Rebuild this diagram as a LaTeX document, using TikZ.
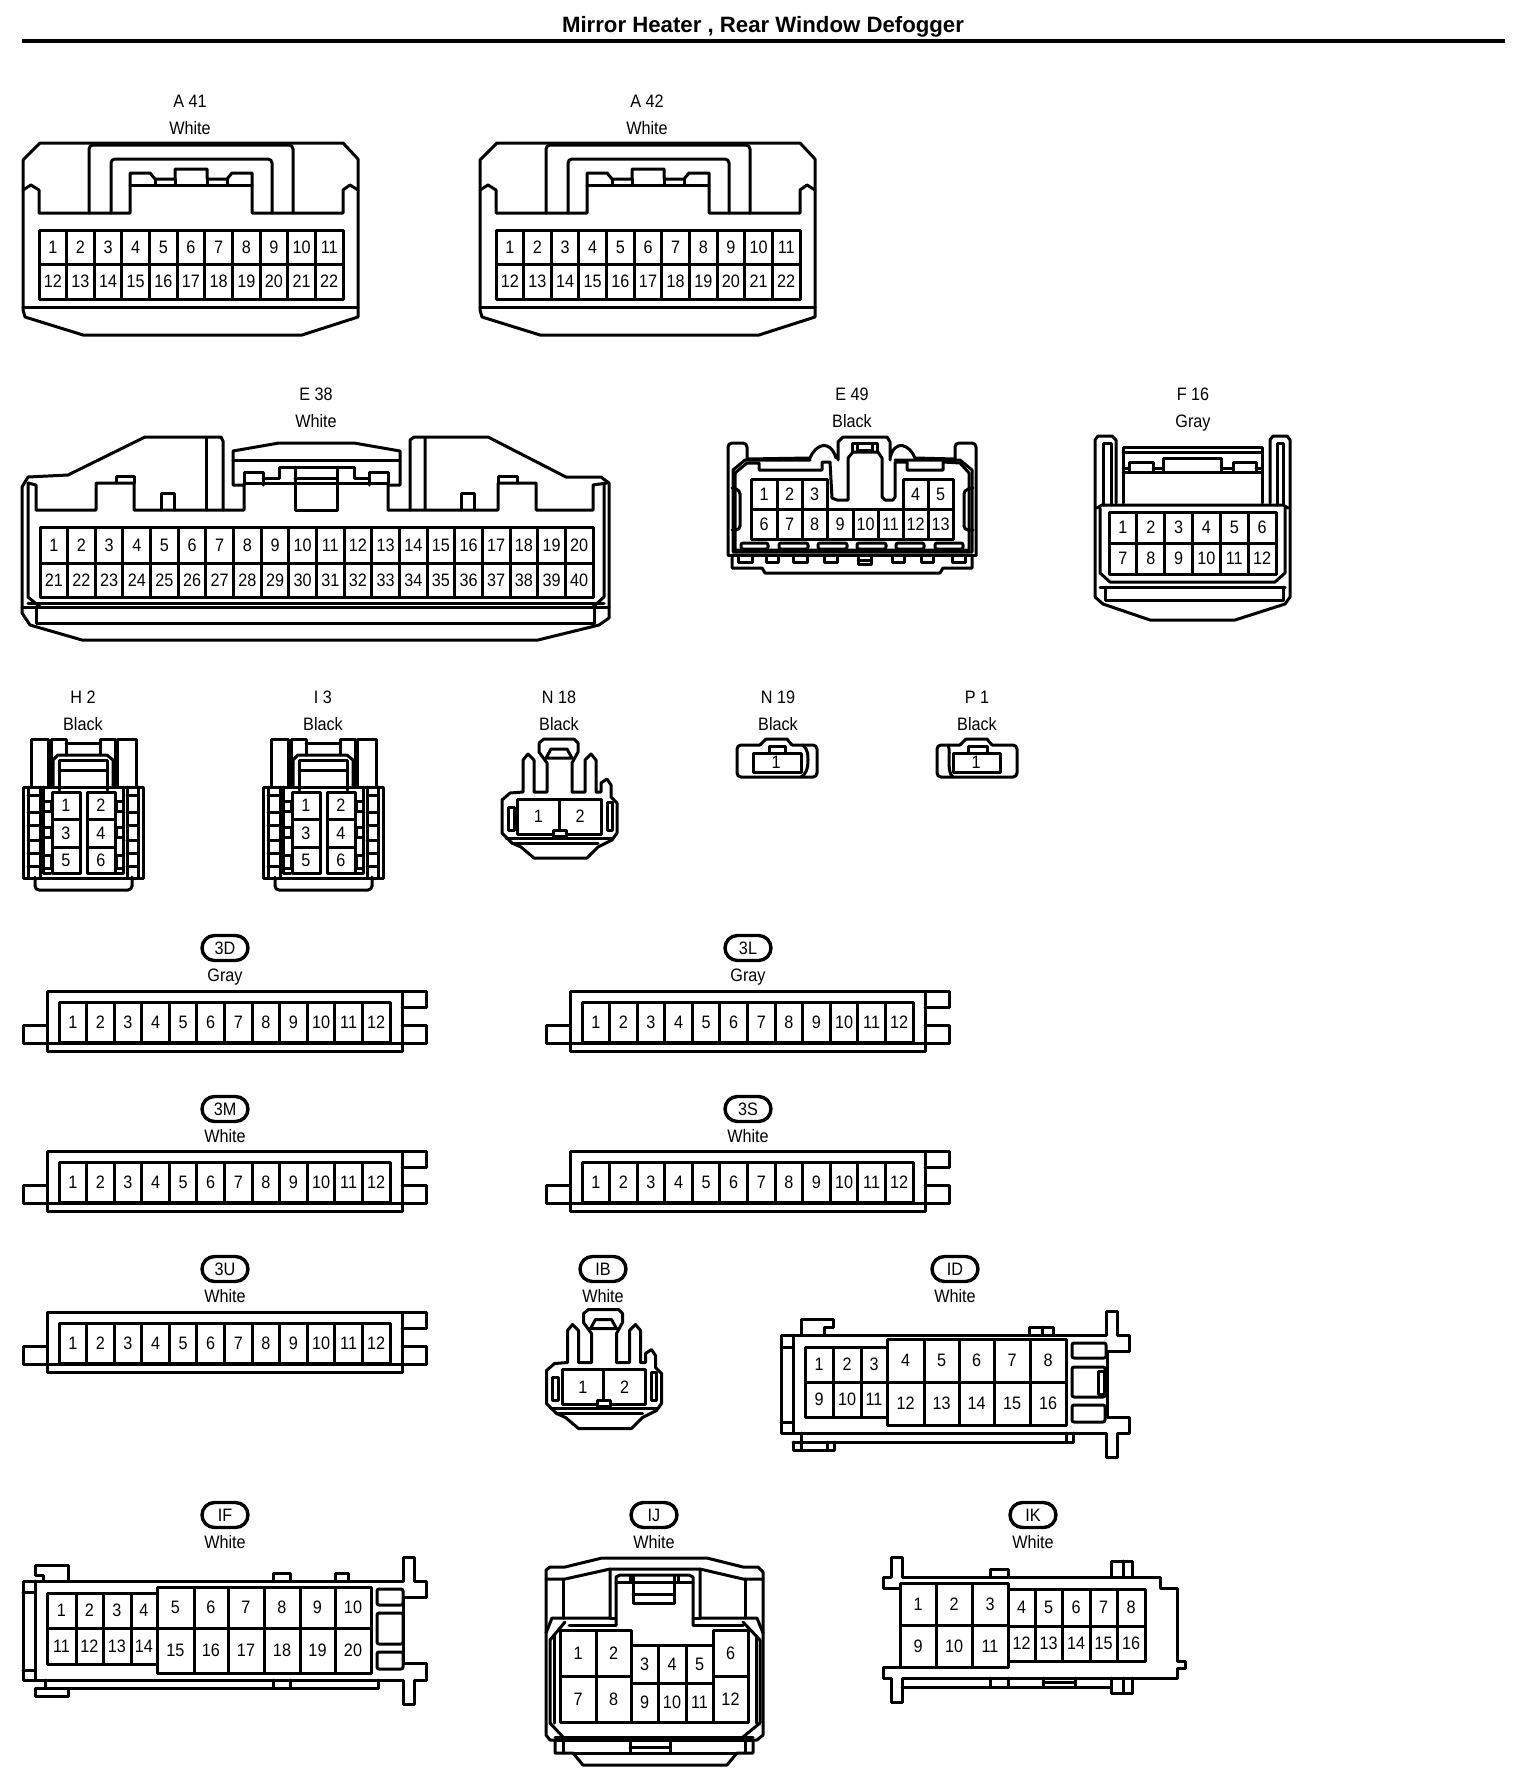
\documentclass[tikz,border=0pt]{standalone}
\usepackage{fontspec}
\setmainfont{Liberation Sans}
\newfontfamily\lblfont[FakeStretch=0.9]{Liberation Sans}
\usetikzlibrary{shapes.misc}
\newcount\pinno
\tikzset{
  x=0.5pt,y=-0.5pt,
  ln/.style={line width=1.5pt,line join=round,line cap=round,black},
  pinlabel/.style={inner sep=0pt,font=\lblfont\fontsize{9}{9}\selectfont},
  toplabel/.style={inner sep=0pt,text height=7pt,text depth=2pt,font=\lblfont\fontsize{9}{9}\selectfont},
  pill/.style={rounded rectangle,draw,line width=1.7pt,minimum width=23pt,minimum height=12.5pt,inner sep=0pt,font=\lblfont\fontsize{9}{9}\selectfont},
  rc/.style={rounded corners=2pt}
}
\newcommand\pincell[5]{%
  \draw[ln] (#1,#2) rectangle (#3,#4);
  \global\advance\pinno by 1
  \node[pinlabel] (pin\the\pinno) at ({(#1+#3)/2},{(#2+#4)/2}) {#5};}
\newcommand\pinrow[6]{%
  \pgfmathsetmacro\cw{(#2-#1)/#5}%
  \foreach \k in {1,...,#5}{%
    \pgfmathsetmacro\xa{#1+(\k-1)*\cw}%
    \pgfmathsetmacro\xb{#1+\k*\cw}%
    \pgfmathtruncatemacro\pn{#6+\k-1}%
    \pincell{\xa}{#3}{\xb}{#4}{\pn}}}
\newcommand\cellset[1]{\foreach \a/\b/\c/\d/\t in {#1}{\pincell{\a}{\b}{\c}{\d}{\t}}}
\newcommand\hdr[5]{% name x y text colour
  \node[toplabel] (#1code) at (#2,#3+1) {#4};
  \node[toplabel] (#1col) at (#2,#3+28.4) {#5};}
\newcommand\pillhdr[5]{%
  \node[pill] (#1code) at (#2,#3) {#4};
  \node[toplabel] (#1col) at (#2,#3+28) {#5};}
\newcommand\connA{%
  \draw[ln] (40,143)--(343,143)--(358,159)--(358,317)--(302,335)--(83,335)--(25,317)--(23,310)--(23,160)--cycle;
  \draw[ln] (23,307)--(358,307);
  \draw[ln] (23,190)--(31,185)--(39,190)--(39,213)--(130,213)--(130,173)--(150,173)--(155,179)--(175,179)--(175,169)--(207,169)--(207,179)--(227,179)--(232,173)--(252,173)--(252,213)--(343,213)--(343,190)--(350,185)--(358,190);
  \draw[ln] (130,185)--(252,185) (155,179)--(155,185) (175,179)--(175,185) (207,179)--(207,185) (227,179)--(227,185);
  \draw[ln,rc] (89,213)--(89,145)--(293,145)--(293,213);
  \draw[ln,rc] (111,213)--(111,159)--(272,159)--(272,213);
  \pinrow{39}{343}{230}{264}{11}{1}
  \pinrow{39}{343}{264}{299}{11}{12}}
\newcommand\connH{%
  \draw[ln] (23,787) rectangle (143,878);
  \draw[ln] (31,787)--(31,739)--(48,739)--(48,787);
  \draw[ln] (51,787)--(51,739)--(66,739)--(66,755) (66,743)--(100,743) (100,755)--(100,739)--(115,739)--(115,787);
  \draw[ln] (117,787)--(117,739)--(136,739)--(136,787);
  \draw[ln] (53,787)--(53,760)--(58,755)--(107,755)--(113,760)--(113,787);
  \draw[ln] (59,790)--(59,760)--(107,760)--(107,790) (59,770)--(107,770);
  \draw[ln] (28,787)--(28,877) (40,787)--(40,877) (127,787)--(127,877) (138,787)--(138,877);
  \foreach \yy in {795,812,825,840,853,866}{\draw[ln] (28,\yy)--(40,\yy) (127,\yy)--(138,\yy);}
  \draw[ln] (43,787)--(43,873)--(51,873) (123,787)--(123,873)--(116,873);
  \draw[ln] (43,801) rectangle (51,811) (43,827) rectangle (51,837) (43,855) rectangle (51,868);
  \draw[ln] (116,801) rectangle (123,811) (116,827) rectangle (123,837) (116,855) rectangle (123,868);
  \draw[ln,rc] (35,877)--(35,890)--(132,890)--(132,877);
  \pincell{52}{792}{80}{819}{1}\pincell{87}{792}{115}{819}{2}
  \pincell{52}{819}{80}{847}{3}\pincell{87}{819}{115}{847}{4}
  \pincell{52}{847}{80}{873}{5}\pincell{87}{847}{115}{873}{6}}
\newcommand\connN{%
  \draw[ln] (502,800)--(510,793)--(523,792)--(523,760)--(528,754)--(534,760)--(534,792)--(547,792)--(547,763)--(539,752)--(539,743)--(544,739)--(574,739)--(578,743)--(578,752)--(572,763)--(572,792)--(585,792)--(585,760)--(591,754)--(596,760)--(596,792)--(601,792)--(601,783)--(607,779)--(611,785)--(611,797)--(617,803)--(617,833)--(612,840)--(598,847)--(587,858)--(534,858)--(521,847)--(512,843)--(502,833)--cycle;
  \draw[ln] (512,843)--(598,843) (506,838)--(612,838);
  \draw[ln] (546,758)--(551,749)--(567,749)--(572,758)--cycle;
  \draw[ln] (508,807) rectangle (514,830) (607,802) rectangle (612,830);
  \pincell{517.5}{799}{559}{834}{1}\pincell{559}{799}{601}{834}{2}
  \draw[ln,fill=white] (553,830) rectangle (566,836);}
\newcommand\connFlat{%
  \draw[ln] (47,991) rectangle (402,1051);
  \draw[ln] (402,991)--(426,991)--(426,1007)--(402,1007);
  \draw[ln] (402,1025)--(426,1025)--(426,1043)--(402,1043);
  \draw[ln] (47,1025)--(23,1025)--(23,1043)--(426,1043);
  \pinrow{59}{390}{1002}{1042}{12}{1}}
\begin{document}
\begin{tikzpicture}
\useasboundingbox[fill=white] (0,0) rectangle (1536,1788);
% title
\node[inner sep=0pt,font=\bfseries\fontsize{11.1}{11.1}\selectfont] (title) at (763,27) {Mirror Heater , Rear Window Defogger};
\coordinate (ruleL) at (22,41); \coordinate (ruleR) at (1505,41);
\draw[line width=1.8pt] (ruleL)--(ruleR);
% A41, A42
\hdr{A41}{190}{101}{A 41}{White}
\hdr{A42}{647}{101}{A 42}{White}
\connA
\begin{scope}[shift={(457,0)}]\connA\end{scope}
% E38
\hdr{E38}{316}{394}{E 38}{White}
\draw[ln] (22,487)--(28,477)--(68,475)--(145,437)--(221,437)--(223,441)--(223,510)--(244,510)--(244,485)--(233,485)--(233,451)--(279,443)--(354,443)--(400,451)--(400,485)--(388,485)--(388,510)--(410,510)--(410,440)--(414,437)--(488,437)--(566,477)--(601,477)--(609,483)--(609,618)--(599,625)--(538,640)--(82,640)--(30,625)--(22,613)--cycle;
\draw[ln] (28,483)--(36,485)--(36,510)--(96,510)--(96,483)--(134,483)--(134,510)--(223,510);
\draw[ln] (28,483)--(28,597)--(40,607);
\draw[ln] (116,483)--(116,476)--(134,476)--(134,483);
\draw[ln] (161,510)--(161,493)--(174,493)--(174,510);
\draw[ln] (206,438)--(206,510);
\draw[ln] (233,460)--(400,460);
\draw[ln] (244,485)--(244,472)--(263,472)--(263,485) (263,478)--(279,478)--(279,467)--(354,467)--(354,478)--(369,478)--(369,485) (369,478)--(369,472)--(388,472)--(388,485);
\draw[ln] (244,483)--(388,483);
\draw[ln] (295,467)--(295,510)--(337,510)--(337,467) (295,478)--(337,478);
\draw[ln] (425,438)--(425,510) (410,510)--(498,510)--(498,483)--(536,483)--(536,510)--(593,510)--(593,485)--(607,483);
\draw[ln] (498,483)--(498,476)--(517,476)--(517,483);
\draw[ln] (461,510)--(461,493)--(474,493)--(474,510);
\draw[ln] (604,483)--(604,597)--(593,607);
\pinrow{40}{593}{527}{563}{20}{1}
\pinrow{40}{593}{563}{597}{20}{21}
\draw[ln] (28,603)--(604,603) (22,607)--(594,607)--(609,607) (36,608)--(36,623)--(594,623)--(594,608);
% E49
\hdr{E49}{852}{394}{E 49}{Black}
\draw[ln,rc] (728,555)--(728,443)--(747,443)--(747,460);
\draw[ln] (747,459)--(810,458) .. controls (815,445) and (830,438) .. (836,458) (838,460)--(838,442)--(843,437)--(887,437)--(890,442)--(890,460) (890,458) .. controls (895,438) and (910,445) .. (915,458)--(955,459);
\draw[ln,rc] (955,460)--(955,443)--(976,443)--(976,555);
\draw[ln] (728,555)--(976,555);
\draw[ln] (732,555)--(732,568)--(762,568)--(765,573)--(940,573)--(943,568)--(972,568)--(972,555);
\draw[ln] (810,460)--(745,460)--(733,470)--(733,552)--(972,552)--(972,470)--(960,460)--(895,460);
\draw[ln] (735,550)--(735,473)--(747,463)--(759,463)--(759,470)--(822,470)--(822,462)--(830,462)--(832,498)--(837,500)--(848,500)--(848,458)--(853,452)--(878,452)--(882,458)--(882,497)--(885,500)--(893,500)--(895,497)--(895,462)--(907,462)--(907,470)--(943,470)--(943,462)--(960,463)--(969,473)--(969,550)--cycle;
\draw[ln] (852,452)--(852,443)--(877,443)--(877,452) (857,445)--(857,450)--(872,450)--(872,445);
\draw[ln,rc] (732,488)--(740,490)--(740,530)--(732,530);
\draw[ln,rc] (973,488)--(964,490)--(964,530)--(973,530);
\foreach \u/\v in {741/768,779/808,818/847,857/886,896/924,935/963}{\draw[ln,rounded corners=1pt] (\u,543) rectangle (\v,549);}
\foreach \u/\v in {738/752,766/778,793/807,824/837,892/904,921/933,952/965}{\draw[ln] (\u,555) rectangle (\v,562);}
\draw[ln] (858,555) rectangle (871,564) (858,560)--(871,560);
\cellset{751/479/777/509/1,777/479/802/509/2,802/479/827/509/3,903/479/928/509/4,928/479/953/509/5,751/509/777/539/6,777/509/802/539/7,802/509/827/539/8,827/509/853/539/9,853/509/878/539/10,878/509/903/539/11,903/509/928/539/12,928/509/953/539/13}
% F16
\hdr{F16}{1193}{394}{F 16}{Gray}
\draw[ln] (1095,597)--(1095,440)--(1098,436)--(1112,436)--(1116,440)--(1116,503);
\draw[ln] (1270,503)--(1270,440)--(1273,436)--(1287,436)--(1290,440)--(1290,597)--(1285,604)--(1235,620)--(1150,620)--(1103,604)--(1095,597);
\draw[ln] (1103,505)--(1103,443)--(1111,443)--(1111,505) (1283,505)--(1283,443)--(1277,443)--(1277,505);
\draw[ln] (1123,503)--(1123,447)--(1262,447)--(1262,503) (1123,452)--(1262,452);
\draw[ln] (1123,472)--(1262,472);
\draw[ln] (1129,472)--(1129,462)--(1153,462)--(1153,472) (1153,468)--(1163,468)--(1163,458)--(1221,458)--(1221,468)--(1233,468)--(1233,462)--(1256,462)--(1256,472) (1233,468)--(1233,472) (1163,468)--(1163,472) (1221,468)--(1221,472) (1123,468)--(1129,468) (1256,468)--(1262,468);
\draw[ln] (1097,508)--(1102,505)--(1283,505)--(1288,508);
\draw[ln] (1100,508)--(1100,573)--(1110,582)--(1275,582)--(1285,573)--(1285,508);
\draw[ln] (1100,587)--(1285,587) (1105,587)--(1105,600)--(1283,600)--(1283,587);
\pinrow{1109}{1276}{512}{543}{6}{1}
\pinrow{1109}{1276}{543}{574}{6}{7}
% H2, I3
\hdr{H2}{83}{697}{H 2}{Black}
\hdr{I3}{323}{697}{I 3}{Black}
\connH
\begin{scope}[shift={(240,0)}]\connH\end{scope}
% N18
\hdr{N18}{559}{697}{N 18}{Black}
\connN
% N19
\hdr{N19}{778}{697}{N 19}{Black}
\draw[ln,rc] (760,745)--(737,745)--(737,777)--(817,777)--(817,745)--(792,745);
\draw[ln] (760,745)--(766,739)--(787,739)--(792,745);
\draw[ln] (803,745) .. controls (808,750) and (808,755) .. (808,760) .. controls (808,770) and (805,775) .. (801,777);
\draw[ln] (753,753) rectangle (801,772);
\draw[ln] (769,746) rectangle (785,753);
\node[pinlabel] (n19pin) at (776,762) {1};
% P1
\hdr{P1}{977}{697}{P 1}{Black}
\draw[ln,rc] (960,745)--(937,745)--(937,777)--(1017,777)--(1017,745)--(992,745);
\draw[ln] (960,745)--(966,739)--(987,739)--(992,745);
\draw[ln] (948,745) .. controls (950,750) and (949,755) .. (949,760) .. controls (949,770) and (950,775) .. (953,777);
\draw[ln] (953,753) rectangle (1000,772);
\draw[ln] (968,746) rectangle (987,753);
\node[pinlabel] (p1pin) at (976,762) {1};
% flat
\pillhdr{c3D}{225}{948}{3D}{Gray}
\pillhdr{c3L}{748}{948}{3L}{Gray}
\pillhdr{c3M}{225}{1109}{3M}{White}
\pillhdr{c3S}{748}{1109}{3S}{White}
\pillhdr{c3U}{225}{1269}{3U}{White}
\connFlat
\begin{scope}[shift={(523,0)}]\connFlat\end{scope}
\begin{scope}[shift={(0,160.5)}]\connFlat\end{scope}
\begin{scope}[shift={(523,160.5)}]\connFlat\end{scope}
\begin{scope}[shift={(0,321)}]\connFlat\end{scope}
% IB
\pillhdr{cIB}{603}{1269}{IB}{White}
\begin{scope}[shift={(44.5,570.5)}]\connN\end{scope}
% ID
\pillhdr{cID}{955}{1269}{ID}{White}
\draw[ln] (781,1335)--(1106,1335)--(1106,1311)--(1117,1311)--(1117,1335)--(1129,1335)--(1129,1351)--(1107,1351)--(1107,1417)--(1129,1417)--(1129,1433)--(1117,1433)--(1117,1457)--(1106,1457)--(1106,1433)--(781,1433)--cycle;
\draw[ln] (793,1335)--(793,1433) (781,1347)--(793,1347) (781,1422)--(793,1422);
\draw[ln] (801,1335)--(801,1319)--(833,1319)--(833,1327)--(824,1327)--(824,1335);
\draw[ln] (1029,1335)--(1029,1327)--(1053,1327)--(1053,1335) (1042,1327)--(1042,1335);
\draw[ln] (801,1433)--(801,1442) (793,1442)--(1073,1442)--(1073,1433) (1066,1433)--(1066,1442);
\draw[ln] (793,1442)--(793,1450)--(834,1450)--(834,1442) (827,1442)--(827,1450) (801,1442)--(801,1450);
\draw[ln,rounded corners=1pt] (1072,1343) rectangle (1106,1358) (1072,1367) rectangle (1105,1397) (1072,1405) rectangle (1105,1422);
\draw[ln] (1098,1371) rectangle (1104,1394);
\cellset{805/1347/833/1382/1,833/1347/861/1382/2,861/1347/887/1382/3,805/1382/833/1417/9,833/1382/861/1417/10,861/1382/887/1417/11,887/1339/924/1382/4,924/1339/959/1382/5,959/1339/994/1382/6,994/1339/1030/1382/7,1030/1339/1066/1382/8,887/1382/924/1425/12,924/1382/959/1425/13,959/1382/994/1425/14,994/1382/1030/1425/15,1030/1382/1066/1425/16}
% IF
\pillhdr{cIF}{225}{1515}{IF}{White}
\draw[ln] (23,1581)--(403,1581)--(403,1557)--(414,1557)--(414,1581)--(426,1581)--(426,1597)--(403,1597)--(403,1663)--(426,1663)--(426,1680)--(414,1680)--(414,1704)--(403,1704)--(403,1680)--(23,1680)--cycle;
\draw[ln] (35,1581)--(35,1680) (23,1592)--(35,1592) (23,1670)--(35,1670);
\draw[ln] (43,1581)--(43,1575)--(35,1575)--(35,1565)--(68,1565)--(68,1581);
\draw[ln] (273,1581)--(273,1573)--(290,1573)--(290,1581) (335,1581)--(335,1573)--(348,1573)--(348,1581);
\draw[ln] (45,1680)--(45,1688)--(378,1688)--(378,1680) (273,1680)--(273,1688) (290,1680)--(290,1688);
\draw[ln] (35,1688)--(35,1696)--(68,1696)--(68,1688)--cycle;
\draw[ln,rounded corners=1pt] (377,1589) rectangle (403,1605) (377,1613) rectangle (403,1644) (377,1652) rectangle (403,1669);
\cellset{47/1593/76/1628/1,76/1593/103/1628/2,103/1593/131/1628/3,131/1593/157/1628/4,47/1628/76/1664/11,76/1628/103/1664/12,103/1628/131/1664/13,131/1628/157/1664/14,157/1587/194/1628/5,194/1587/228/1628/6,228/1587/264/1628/7,264/1587/300/1628/8,300/1587/335/1628/9,335/1587/371/1628/10,157/1628/194/1673/15,194/1628/228/1673/16,228/1628/264/1673/17,264/1628/300/1673/18,300/1628/335/1673/19,335/1628/371/1673/20}
% IJ
\pillhdr{cIJ}{654}{1515}{IJ}{White}
\draw[ln] (546,1570)--(550,1567)--(565,1567)--(602,1558)--(707,1558)--(743,1567)--(758,1567)--(763,1572)--(763,1735)--(757,1740)--(753,1740)--(753,1753)--(737,1753)--(727,1765)--(583,1765)--(573,1753)--(555,1753)--(555,1740)--(550,1740)--(546,1735)--cycle;
\draw[ln] (546,1579)--(565,1579)--(610,1569)--(700,1569)--(743,1579)--(763,1579);
\draw[ln] (563,1579)--(563,1618) (745,1579)--(745,1618);
\draw[ln] (610,1569)--(610,1618)--(552,1618)--(546,1633) (700,1569)--(700,1618)--(757,1618)--(763,1633);
\draw[ln] (616,1625)--(616,1577)--(620,1575)--(689,1575)--(693,1577)--(693,1625);
\draw[ln] (569,1625)--(616,1625) (693,1625)--(743,1625) (610,1618)--(616,1618) (693,1618)--(700,1618);
\draw[ln] (633,1576)--(633,1603)--(674,1603)--(674,1576) (633,1594)--(674,1594) (616,1582)--(693,1582) (630,1576)--(630,1582) (678,1576)--(678,1582);
\draw[ln] (550,1723)--(550,1640)--(565,1622) (760,1723)--(760,1640)--(743,1622);
\draw[ln] (554,1636)--(554,1723) (756,1636)--(756,1723);
\draw[ln] (550,1723)--(563,1737) (760,1723)--(743,1737);
\draw[ln] (555,1737)--(753,1737) (555,1740)--(753,1740);
\draw[ln] (563,1740)--(563,1753) (745,1740)--(745,1753);
\draw[ln] (630,1741)--(630,1753) (670,1741)--(670,1753) (630,1747)--(670,1747);
\draw[ln] (573,1753)--(737,1753);
\cellset{560/1630/596/1676/1,596/1630/631/1676/2,713/1630/748/1676/6,560/1676/596/1722/7,596/1676/631/1722/8,713/1676/748/1722/12,631/1645/658/1683/3,658/1645/686/1683/4,686/1645/713/1683/5,631/1683/658/1722/9,658/1683/686/1722/10,686/1683/713/1722/11}
% IK
\pillhdr{cIK}{1033}{1515}{IK}{White}
\draw[ln] (891,1577)--(891,1557)--(902,1557)--(902,1577)--(1160,1577)--(1160,1588)--(1177,1588)--(1177,1661)--(1185,1661)--(1185,1668)--(1177,1668)--(1177,1678)--(902,1678)--(902,1702)--(891,1702)--(891,1678)--(883,1678)--(883,1667)--(900,1667) (900,1588)--(883,1588)--(883,1577)--(891,1577);
\draw[ln] (990,1577)--(990,1569)--(1008,1569)--(1008,1577);
\draw[ln] (1111,1577)--(1111,1561)--(1132,1561)--(1132,1577) (1123,1561)--(1123,1577);
\draw[ln] (902,1687)--(1111,1687);
\draw[ln] (1111,1678)--(1111,1693)--(1132,1693)--(1132,1678) (1123,1678)--(1123,1693);
\draw[ln] (990,1678)--(990,1687) (1008,1678)--(1008,1687);
\draw[ln] (1043,1678)--(1043,1687) (1075,1678)--(1075,1687) (1043,1682)--(1075,1682);
\cellset{900/1583/936/1625/1,936/1583/972/1625/2,972/1583/1008/1625/3,900/1625/936/1667/9,936/1625/972/1667/10,972/1625/1008/1667/11,1008/1589/1035/1626/4,1035/1589/1062/1626/5,1062/1589/1090/1626/6,1090/1589/1117/1626/7,1117/1589/1145/1626/8,1008/1626/1035/1661/12,1035/1626/1062/1661/13,1062/1626/1090/1661/14,1090/1626/1117/1661/15,1117/1626/1145/1661/16}
\end{tikzpicture}
\end{document}
